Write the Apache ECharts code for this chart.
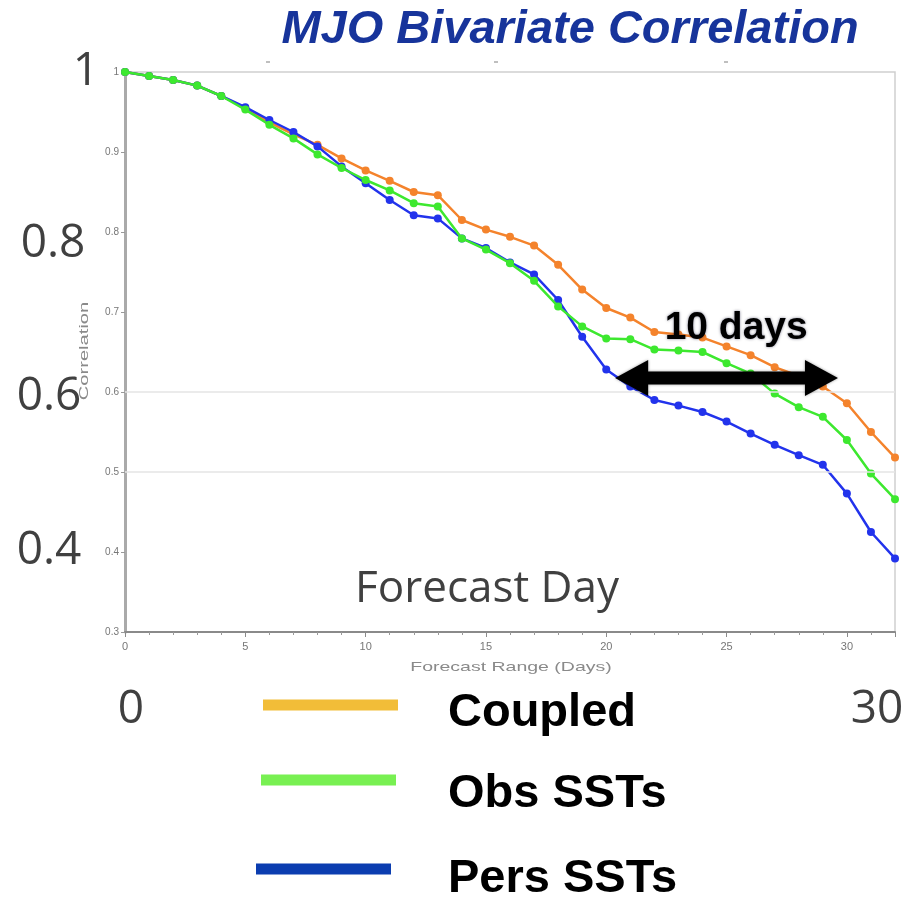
<!DOCTYPE html>
<html><head><meta charset="utf-8">
<script src="https://cdn.jsdelivr.net/npm/echarts@6/dist/echarts.min.js"></script>
<style>html,body{margin:0;padding:0;background:#fff}#c{width:914px;height:900px}</style>
</head><body><div id="c"></div>
<script>
// ---- data ----
const days = [0,1,2,3,4,5,6,7,8,9,10,11,12,13,14,15,16,17,18,19,20,21,22,23,24,25,26,27,28,29,30,31,32];
const coupled = [1.0,0.995,0.99,0.983,0.97,0.955,0.937,0.922,0.909,0.892,0.877,0.864,0.85,0.846,0.815,0.803,0.794,0.783,0.759,0.728,0.705,0.693,0.675,0.672,0.668,0.657,0.646,0.631,0.62,0.607,0.586,0.55,0.518];
const obsSST = [1.0,0.995,0.99,0.983,0.97,0.953,0.934,0.917,0.897,0.88,0.865,0.852,0.836,0.832,0.792,0.778,0.761,0.739,0.707,0.682,0.667,0.666,0.653,0.652,0.65,0.636,0.623,0.598,0.581,0.569,0.54,0.498,0.466];
const persSST = [1.0,0.995,0.99,0.983,0.97,0.956,0.94,0.925,0.907,0.882,0.861,0.84,0.821,0.817,0.792,0.78,0.762,0.747,0.715,0.669,0.628,0.607,0.59,0.583,0.575,0.563,0.548,0.534,0.521,0.509,0.473,0.425,0.392];
const seriesNames = ['Coupled','Obs SSTs','Pers SSTs'];
const refLines = [0.5, 0.6];
const overlayYLabels = ['1','0.8','0.6','0.4'];
const overlayXLabels = ['0','30'];
const arrowDays = [20.37, 29.63];
const arrowLevel = 0.6175;
const arrowText = '10 days';
const titleText = 'MJO Bivariate Correlation';

// ---- styles ----
const lineColors = ['#F4832C', '#3DE82F', '#2233EC'];
const legendColors = ['#F2BD38', '#78F052', '#0B3DB0'];
const overlayFont = '"Open Sans", "Noto Sans", sans-serif';

const chart = echarts.init(document.getElementById('c'), null, {renderer:'canvas'});

function mkSeries(i, vals, z) {
  return {
    name: seriesNames[i], type: 'line', z: z,
    data: days.map((d, k) => [d, vals[k]]),
    symbol: 'circle', symbolSize: 8, showSymbol: true,
    lineStyle: {width: 2.5, color: lineColors[i]},
    itemStyle: {color: lineColors[i]},
    emphasis: {disabled: true}
  };
}

const overlayYPos = [[86,72],[53,244],[49,397],[49,551]];
const overlayXPos = [[131,710],[877,710]];
const legendY = [[263,398,705,713],[261,396,780,794],[256,391,869,879]];

const graphics = [];
graphics.push({type:'text', x:570, y:30, z:10, style:{text:titleText, font:'italic bold 47px "Liberation Sans", Arial, sans-serif', fill:'#17349B', align:'center', verticalAlign:'middle'}});
// small marks at the top of the original figure
[268,496,726].forEach(x => graphics.push({type:'line', shape:{x1:x-2,y1:62,x2:x+2,y2:62}, style:{stroke:'#aaa', lineWidth:1.5}}));
overlayYLabels.forEach((t,i) => graphics.push({type:'text', x:overlayYPos[i][0], y:overlayYPos[i][1], z:10, style:{text:t, font:'46px '+overlayFont, fill:'#404040', align:'center', verticalAlign:'middle'}}));
overlayXLabels.forEach((t,i) => graphics.push({type:'text', x:overlayXPos[i][0], y:overlayXPos[i][1], z:10, style:{text:t, font:'46px '+overlayFont, fill:'#404040', align:'center', verticalAlign:'middle'}}));
graphics.push({type:'text', x:487, y:589, z:10, style:{text:'Forecast Day', font:'44px '+overlayFont, fill:'#404040', align:'center', verticalAlign:'middle'}});
// original small axis names (stretched in the picture)
graphics.push({type:'text', x:511, y:667, scaleX:1.5, style:{text:'Forecast Range (Days)', font:'13px "Liberation Sans", Arial, sans-serif', fill:'#8a8a8a', align:'center', verticalAlign:'middle'}});
graphics.push({type:'text', x:84, y:351, rotation:Math.PI/2, scaleX:1.55, style:{text:'Correlation', font:'13px "Liberation Sans", Arial, sans-serif', fill:'#8a8a8a', align:'center', verticalAlign:'middle'}});
// legend
seriesNames.forEach((n,i) => {
  const L = legendY[i];
  graphics.push({type:'line', shape:{x1:L[0],y1:L[2],x2:L[1],y2:L[2]}, style:{stroke:legendColors[i], lineWidth:11}});
  graphics.push({type:'text', x:448, y:L[3], style:{text:n, font:'bold 47px "Liberation Sans", Arial, sans-serif', fill:'#000', align:'left', verticalAlign:'middle'}});
});

const option = {
  animation: false,
  backgroundColor: '#fff',
  grid: {left:125, right:19, top:72, bottom:268, show:true, borderColor:'#cfcfcf', borderWidth:1.5, backgroundColor:'transparent'},
  xAxis: {
    type:'value', min:0, max:32, interval:5,
    axisLine:{show:true, onZero:false, lineStyle:{color:'#8a8a8a', width:2}},
    axisTick:{show:true, length:5, lineStyle:{color:'#8a8a8a'}},
    minorTick:{show:true, splitNumber:5, length:3, lineStyle:{color:'#999'}},
    axisLabel:{showMaxLabel:false, color:'#777', fontSize:11, margin:9, fontFamily:'"Liberation Sans", Arial'},
    splitLine:{show:false}
  },
  yAxis: {
    type:'value', min:0.3, max:1, interval:0.1,
    axisLine:{show:true, lineStyle:{color:'#aaa', width:3}},
    axisTick:{show:true, length:4, lineStyle:{color:'#999'}},
    axisLabel:{color:'#777', fontSize:10, margin:6, fontFamily:'"Liberation Sans", Arial', formatter: v => String(Math.round(v*10)/10)},
    splitLine:{show:false}
  },
  series: [
    {type:'line', data:[], z:1, silent:true, markLine:{silent:true, symbol:'none', label:{show:false}, lineStyle:{color:'#e4e4e4', width:1.5, type:'solid'}, data: refLines.map(v => ({yAxis:v}))}},
    mkSeries(0, coupled, 2),
    mkSeries(2, persSST, 3),
    mkSeries(1, obsSST, 4)
  ],
  graphic: graphics
};
chart.setOption(option);

// annotation arrow positioned in data coordinates
const pL = chart.convertToPixel({gridIndex:0}, [arrowDays[0], arrowLevel]);
const pR = chart.convertToPixel({gridIndex:0}, [arrowDays[1], arrowLevel]);
const head = 33, hh = 18, sh = 6.5, y = pL[1];
const arrowPts = [
  [pL[0], y], [pL[0]+head, y-hh], [pL[0]+head, y-sh], [pR[0]-head, y-sh], [pR[0]-head, y-hh],
  [pR[0], y], [pR[0]-head, y+hh], [pR[0]-head, y+sh], [pL[0]+head, y+sh], [pL[0]+head, y+hh]
];
const textPt = chart.convertToPixel({gridIndex:0}, [(arrowDays[0]+arrowDays[1])/2 + 0.4, arrowLevel]);
chart.setOption({graphic: graphics.concat([
  {type:'polygon', z:20, shape:{points:arrowPts}, style:{fill:'#000', shadowBlur:3, shadowColor:'rgba(0,0,0,0.4)'}},
  {type:'text', z:20, x:textPt[0], y:y-50, style:{text:arrowText, font:'bold 39px "Liberation Sans", Arial, sans-serif', fill:'#000', align:'center', verticalAlign:'middle', textShadowBlur:3, textShadowColor:'rgba(0,0,40,0.5)'}}
])}, {replaceMerge:['graphic']});
</script></body></html>
